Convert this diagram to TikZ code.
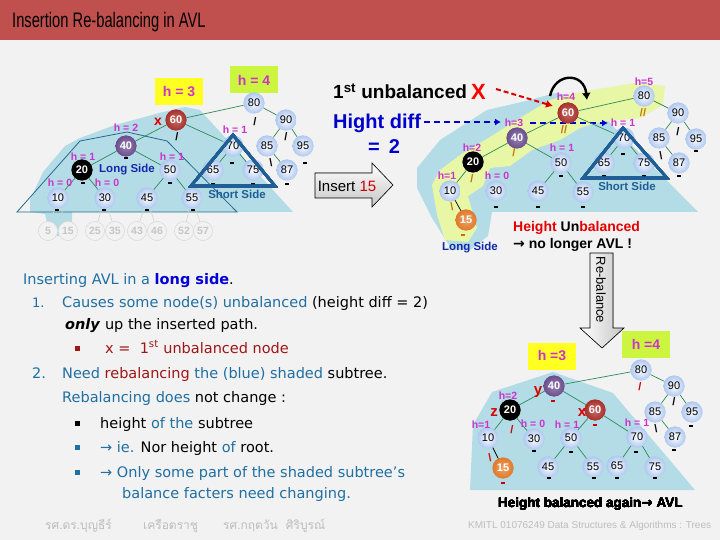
\documentclass[tikz,border=0pt]{standalone}
\usepackage{fontspec}
\setmainfont{Liberation Sans}
\newfontfamily\bodyfont{DejaVu Sans}
\newfontfamily\thaifont[Script=Thai]{Loma}
\usetikzlibrary{arrows.meta,calc}
\definecolor{titlered}{HTML}{C0504D}
\definecolor{bg}{HTML}{F2F2F2}
\definecolor{shadebl}{HTML}{B3DCE6}
\definecolor{yel}{HTML}{E8F7A6}
\definecolor{tealtx}{HTML}{1F6FA3}
\definecolor{dred}{HTML}{A01515}
\definecolor{hmag}{HTML}{CC33CC}
\definecolor{edgeg}{HTML}{2E8B57}
\definecolor{nblue}{HTML}{AFC8F0}
\definecolor{nsixty}{HTML}{A8302A}
\definecolor{nforty}{HTML}{6B4E8E}
\definecolor{nfifteen}{HTML}{E07A2A}
\definecolor{triblue}{HTML}{1F5F96}
\definecolor{outl}{HTML}{236A8E}
\definecolor{sideblue}{HTML}{1428A8}
\definecolor{slorange}{HTML}{C87000}
\definecolor{hyel}{HTML}{FFFF22}
\definecolor{hgreen}{HTML}{CCF53F}
\definecolor{foot}{HTML}{BDBDBD}
\newcommand\balmark[2][black]{\fill[#1] ($(#2)+(-2.3,-0.9)$) rectangle ++(4.6,1.8);}
\newcommand\bigarrow{{\bodyfont\bfseries →}}
\begin{document}
\begin{tikzpicture}[x=1pt,y=-1pt,
  tn/.style={circle,minimum size=21pt,inner sep=0pt,inner color=white,outer color=nblue,font=\fontsize{11}{12}\selectfont},
  sn/.style={circle,minimum size=21pt,inner sep=0pt,inner color=#1!70!white,outer color=#1,text=white,font=\fontsize{11}{12}\selectfont\bfseries},
  kn/.style={circle,minimum size=21pt,inner sep=0pt,fill=black,text=white,font=\fontsize{11}{12}\selectfont\bfseries},
  gl/.style={circle,draw=gray!30,fill=bg,minimum size=19pt,inner sep=0pt,text=gray!45,font=\fontsize{10.5}{12}\selectfont\bfseries},
  hl/.style={text=hmag,font=\fontsize{10.5}{12}\selectfont\bfseries,inner sep=0pt},
  sl/.style={font=\fontsize{11}{12}\selectfont\bfseries,inner sep=0pt},
  eg/.style={edgeg,line width=0.7pt},
  side/.style={font=\fontsize{11.5}{13}\selectfont\bfseries,inner sep=0pt},
  body/.style={anchor=base west,inner sep=0pt,font=\bodyfont\fontsize{14.5}{17}\selectfont},
  hbox/.style={minimum width=48pt,minimum height=27pt,inner sep=0pt,text=hmag,font=\fontsize{14}{16}\selectfont\bfseries},
  redl/.style={text=red!85!black,font=\fontsize{15}{16}\selectfont\bfseries,inner sep=0pt},
]
\useasboundingbox (0,0) rectangle (720,540);
\clip (0,0) rectangle (720,540);
\fill[bg] (0,0) rectangle (720,540);
\fill[titlered] (0,0) rectangle (720,40);
\node[anchor=base west,inner sep=0pt,font=\fontsize{21}{24}\selectfont] (title) at (12,28) {\scalebox{0.7}[1]{Insertion Re-balancing in AVL}};

% ================= Tree A (top left) =================
\fill[shadebl] (30,200) -- (43,172) -- (65,146) -- (80,138) -- (115,125) -- (163,112) -- (185,107) -- (200,110) -- (293,212) -- (72,212) -- (72,236) -- (50,236) -- (45,214) -- (30,212) -- cycle;
\draw[outl,line width=0.8pt] (17,212) -- (80,141) -- (127,132) -- (167,141) -- (237,212) -- cycle;
\node[hbox,fill=hyel] (ah3) at (179,92) {h = 3};
\node[hbox,fill=hgreen] (ah4) at (254,80) {h = 4};

\node[tn] (a80) at (254,103) {80};
\node[tn] (a90) at (286,120) {90};
\node[tn] (a85) at (267,146) {85};
\node[tn] (a95) at (303,146) {95};
\node[tn] (a87) at (287,170) {87};
\node[sn=nsixty] (a60) at (176,120) {60};
\node[sn=nforty] (a40) at (126,146) {40};
\node[tn] (a70) at (233,146) {70};
\node[kn] (a20) at (82,170) {20};
\node[tn] (a50) at (170,170) {50};
\node[tn] (a65) at (213,170) {65};
\node[tn] (a75) at (253,170) {75};
\node[tn] (a10) at (58,198) {10};
\node[tn] (a30) at (105,198) {30};
\node[tn] (a45) at (147,198) {45};
\node[tn] (a55) at (192,198) {55};
\node[gl] (g5) at (48,231) {5};
\node[gl] (g15) at (68,231) {15};
\node[gl] (g25) at (95,231) {25};
\node[gl] (g35) at (115,231) {35};
\node[gl] (g43) at (137,231) {43};
\node[gl] (g46) at (157,231) {46};
\node[gl] (g52) at (184,231) {52};
\node[gl] (g57) at (203,231) {57};
\foreach \p/\c in {a80/a60,a80/a90,a90/a85,a90/a95,a85/a87,a60/a40,a60/a70,a40/a20,a40/a50,a20/a10,a20/a30,a50/a45,a50/a55,a70/a65,a70/a75}
  \draw[eg] (\p) -- (\c);
\foreach \p/\c in {a10/g5,a10/g15,a30/g25,a30/g35,a45/g43,a45/g46,a55/g52,a55/g57}
  \draw[gray!35,line width=0.6pt] (\p) -- (\c);
\foreach \n/\v in {a80/80,a90/90,a85/85,a95/95,a87/87,a70/70,a50/50,a65/65,a75/75,a10/10,a30/30,a45/45,a55/55}
  \node[tn] at (\n) {\v};
\node[sn=nsixty] at (a60) {60};
\node[sn=nforty] at (a40) {40};
\node[kn] at (a20) {20};
\foreach \n/\v in {g5/5,g15/15,g25/25,g35/35,g43/43,g46/46,g52/52,g57/57}
  \node[gl] at (\n) {\v};

\node[hl] (ah2) at (126,128) {h = 2};
\node[hl] (ah1a) at (83,157) {h = 1};
\node[hl] (ah1b) at (172,157) {h = 1};
\node[hl] (ah0a) at (60,183) {h = 0};
\node[hl] (ah0b) at (107,183) {h = 0};
\node[hl] (ah1c) at (235,130) {h = 1};
\node[redl,font=\fontsize{14}{16}\selectfont\bfseries] (ax) at (158,122) {x};
\node[sl] (as80) at (255,122) {/};
\node[sl] (as90) at (286,137) {/};
\node[sl] (as60) at (177,137) {/};
\node[sl] (as85) at (271,163) {\textbackslash};
\foreach \q in {{126,158},{83,183},{57,210},{104,210},{147,210},{193,210},{170,183},{232,163},{213,184},{253,184},{287,184},{305,163}}
  \balmark{\q}
\draw[triblue,line width=2.6pt,line join=miter] (233,135) -- (191,186) -- (275,186) -- cycle;
\node[side,text=sideblue] (along) at (127,170) {Long Side};
\node[side,text=triblue] (ashort) at (237,194) {Short Side};

% ================= Middle =================
\node[anchor=base west,inner sep=0pt,font=\fontsize{19}{22}\selectfont\bfseries] (unb) at (333,99) {1\textsuperscript{st} unbalanced};
\node[anchor=base west,inner sep=0pt,text=red,font=\fontsize{22}{22}\selectfont\bfseries] (redx) at (471,100) {X};
\node[anchor=base west,inner sep=0pt,text=blue!80!black,font=\fontsize{20}{22}\selectfont\bfseries] (hd) at (333,129) {Hight diff};
\node[anchor=base west,inner sep=0pt,text=blue!80!black,font=\fontsize{20}{22}\selectfont\bfseries] (eq2) at (368,154) {=\, 2};
\fill[top color=white,bottom color=gray!45,draw=black,line width=0.6pt] (315,173) -- (372,173) -- (372,163) -- (393,185) -- (372,207) -- (372,198) -- (315,198) -- cycle;
\node[font=\fontsize{15}{16}\selectfont,inner sep=0pt] (ins) at (347,186) {Insert \textcolor{red!80!black}{15}};

% ================= Tree B (top right) =================
\fill[shadebl] (417,168) -- (440,140) -- (487,110) -- (530,100) -- (555,93) -- (600,100) -- (610,123) -- (698,212) -- (492,212) -- (488,236) -- (470,250) -- (452,250) -- (432,218) -- (417,188) -- cycle;
\fill[yel] (445,240) -- (437,215) -- (432,185) -- (440,170) -- (460,155) -- (490,137) -- (520,118) -- (550,100) -- (580,92) -- (635,83) -- (665,86) -- (663,105) -- (640,118) -- (600,122) -- (580,128) -- (560,140) -- (532,150) -- (510,166) -- (490,168) -- (483,186) -- (468,196) -- (477,228) -- (468,242) -- cycle;
\draw[red!85!black,line width=2pt,dash pattern=on 5pt off 3pt,-{Latex[length=7pt,width=8pt]}] (496,89) -- (553,106);
\draw[blue!80!black,line width=2pt,dash pattern=on 6pt off 4pt,-{Latex[length=6pt,width=7pt]}] (hd.east |- 0,122) ++(3,0) -- (501,122);
\draw[blue!80!black,line width=2pt,dash pattern=on 6pt off 4pt,-{Latex[length=6pt,width=7pt]}] (530,123) -- (608,123);
\node[tn] (b80) at (644,96) {80};
\node[tn] (b90) at (678,113) {90};
\node[tn] (b85) at (659,138) {85};
\node[tn] (b95) at (696,139) {95};
\node[tn] (b87) at (679,163) {87};
\node[sn=nsixty] (b60) at (568,113) {60};
\node[sn=nforty] (b40) at (517,138) {40};
\node[tn] (b70) at (624,138) {70};
\node[kn] (b20) at (473,162) {20};
\node[tn] (b50) at (561,163) {50};
\node[tn] (b65) at (604,163) {65};
\node[tn] (b75) at (644,163) {75};
\node[tn] (b10) at (450,191) {10};
\node[tn] (b30) at (496,191) {30};
\node[tn] (b45) at (538,191) {45};
\node[tn] (b55) at (583,192) {55};
\node[sn=nfifteen] (b15) at (466,220) {15};
\foreach \p/\c in {b80/b60,b80/b90,b90/b85,b90/b95,b85/b87,b60/b40,b60/b70,b40/b20,b40/b50,b20/b10,b50/b45,b50/b55,b70/b65,b70/b75}
  \draw[eg] (\p) -- (\c);
\draw[black,line width=0.7pt] (b10) -- (b15);
\foreach \n/\v in {b80/80,b90/90,b85/85,b95/95,b87/87,b70/70,b50/50,b65/65,b75/75,b10/10,b30/30,b45/45,b55/55}
  \node[tn] at (\n) {\v};
\node[sn=nsixty] at (b60) {60};
\node[sn=nforty] at (b40) {40};
\node[kn] at (b20) {20};
\node[sn=nfifteen] at (b15) {15};
\draw[line width=2.4pt,-{Latex[length=7pt,width=9pt]}] (550,96) .. controls (555,72) and (584,72) .. (587,100);
\node[hl] (bh5) at (644,82) {h=5};
\node[hl] (bh4) at (566,97) {h=4};
\node[hl] (bh3) at (514,123) {h=3};
\node[hl] (bh1a) at (623,123) {h = 1};
\node[hl] (bh2) at (472,148) {h=2};
\node[hl] (bh1b) at (562,148) {h = 1};
\node[hl] (bh1c) at (447,176) {h=1};
\node[hl] (bh0) at (497,176) {h = 0};
\node[sl,text=slorange] (bs60) at (564,130) {//};
\node[sl,text=slorange] (bs80) at (643,113) {//};
\node[sl,text=slorange] (bs40) at (514,153) {/};
\node[sl,text=slorange] (bs20) at (472,179) {/};
\node[sl,text=slorange] (bs10) at (452,207) {\textbackslash};
\node[sl] (bs90) at (678,132) {/};
\node[sl] (bs85) at (661,156) {\textbackslash};
\balmark[slorange]{463,235}
\foreach \q in {{496,207},{538,207},{583,207},{561,176},{623,154},{604,176},{644,176},{679,176},{696,151}}
  \balmark{\q}
\draw[triblue,line width=2.6pt,line join=miter] (623,128) -- (583,178) -- (667,178) -- cycle;
\node[side,text=sideblue] (blong) at (470,248) {Long Side};
\node[side,text=triblue] (bshort) at (627,186) {Short Side};
\node[anchor=base west,inner sep=0pt,font=\fontsize{14}{16}\selectfont\bfseries] (hu) at (513,232) {\textcolor{red!90!black}{Height} Un\textcolor{red!90!black}{balanced}};
\node[anchor=base west,inner sep=0pt,font=\fontsize{14}{16}\selectfont\bfseries] (nl) at (513,248) {\bigarrow\ no longer AVL !};

% Re-balance arrow
\fill[left color=white,right color=gray!45,draw=black,line width=0.6pt] (590,253) -- (613,253) -- (613,328) -- (624,328) -- (602,348) -- (580,328) -- (590,328) -- cycle;
\node[rotate=-90,font=\fontsize{13}{15}\selectfont,inner sep=0pt] (rb) at (601,290) {Re-balance};

% ================= Tree C (bottom right) =================
\fill[shadebl] (470,490) -- (473,425) -- (492,392) -- (553,372) -- (613,393) -- (695,490) -- cycle;
\node[hbox,fill=hyel] (ch3) at (552,356) {h =3};
\node[hbox,fill=hgreen] (ch4) at (646,344) {h =4};
\node[tn] (c80) at (641,370) {80};
\node[tn] (c90) at (674,386) {90};
\node[tn] (c85) at (655,412) {85};
\node[tn] (c95) at (692,412) {95};
\node[tn] (c87) at (675,437) {87};
\node[sn=nforty] (c40) at (554,386) {40};
\node[kn] (c20) at (510,410) {20};
\node[sn=nsixty] (c60) at (595,410) {60};
\node[tn] (c10) at (488,438) {10};
\node[tn] (c30) at (534,439) {30};
\node[tn] (c50) at (571,438) {50};
\node[tn] (c70) at (637,437) {70};
\node[sn=nfifteen] (c15) at (503,468) {15};
\node[tn] (c45) at (548,467) {45};
\node[tn] (c55) at (593,467) {55};
\node[tn] (c65) at (617,466) {65};
\node[tn] (c75) at (655,467) {75};
\foreach \p/\c in {c80/c40,c80/c90,c90/c85,c90/c95,c85/c87,c40/c20,c40/c60,c20/c10,c20/c30,c60/c50,c60/c70,c50/c45,c50/c55,c70/c65,c70/c75}
  \draw[eg] (\p) -- (\c);
\draw[black,line width=0.7pt] (c10) -- (c15);
\foreach \n/\v in {c80/80,c90/90,c85/85,c95/95,c87/87,c10/10,c30/30,c50/50,c70/70,c45/45,c55/55,c65/65,c75/75}
  \node[tn] at (\n) {\v};
\node[sn=nforty] at (c40) {40};
\node[kn] at (c20) {20};
\node[sn=nsixty] at (c60) {60};
\node[sn=nfifteen] at (c15) {15};
\node[hl] (chh2) at (508,396) {h=2};
\node[hl] (chh1a) at (481,425) {h=1};
\node[hl] (chh0) at (533,424) {h = 0};
\node[hl] (chh1b) at (567,425) {h = 1};
\node[hl] (chh1c) at (637,423) {h = 1};
\node[redl] (cy) at (538,392) {y};
\node[redl] (cz) at (494,413) {z};
\node[redl] (cx) at (582,413) {x};
\node[sl,text=red!80!black] (cs20) at (512,430) {/};
\node[sl,text=red!80!black] (cs10) at (490,458) {\textbackslash};
\node[sl,text=red!80!black] (cs80) at (640,387) {/};
\node[sl] (cs90) at (674,402) {/};
\node[sl] (cs85) at (656,429) {\textbackslash};
\balmark[red!80!black]{553,401}
\balmark[red!80!black]{595,425}
\balmark[red!80!black]{503,483}
\foreach \q in {{534,451},{571,452},{636,452},{549,478},{594,478},{617,478},{655,478},{674,450},{691,426}}
  \balmark{\q}
\node[anchor=base west,inner sep=0pt,font=\fontsize{13.5}{16}\selectfont\bfseries] (hb) at (498,507) {Height balanced again\bigarrow\ AVL};

% ================= Text block =================
\node[body,text=tealtx] (t1) at (23,284) {Inserting AVL in a \textcolor{blue!85!black}{\textbf{long side}}\textcolor{black}{.}};
\node[body,text=tealtx,font=\bodyfont\fontsize{13}{15}\selectfont] (n1) at (32,307) {1.};
\node[body,text=tealtx] (t2) at (62,307) {Causes some node(s) unbalanced \textcolor{black}{(height diff = 2)}};
\node[body] (t3) at (65,329) {\textbf{\textit{only}} up the inserted path.};
\fill[dred] (75,346) rectangle (80,351);
\node[body,text=dred] (t4) at (105,353) {x =\ \ 1\textsuperscript{st} unbalanced node};
\node[body,text=tealtx] (n2) at (32,378) {2.};
\node[body,text=tealtx] (t5) at (62,378) {Need \textcolor{dred}{rebalancing} the (blue) shaded \textcolor{black}{subtree.}};
\node[body,text=tealtx] (t6) at (62,402) {Rebalancing does \textcolor{black}{not change :}};
\fill[black] (75,421) rectangle (80,426);
\node[body] (t7) at (100,428) {height \textcolor{tealtx}{of the} subtree};
\fill[tealtx] (75,445) rectangle (80,450);
\node[body,text=tealtx] (t8) at (100,452) {→ ie. \textcolor{black}{Nor height} of \textcolor{black}{root.}};
\fill[tealtx] (75,470) rectangle (80,475);
\node[body,text=tealtx] (t9) at (100,477) {→ Only some part of the shaded subtree’s};
\node[body,text=tealtx] (t10) at (122,498) {balance facters need changing.};

% ================= Footers =================
\node[anchor=base west,inner sep=0pt,text=foot,font=\thaifont\fontsize{12}{14}\selectfont] (f1) at (45,529) {รศ.ดร.บุญธีร์};
\node[anchor=base west,inner sep=0pt,text=foot,font=\thaifont\fontsize{12}{14}\selectfont] (f2) at (143,529) {เครือตราชู};
\node[anchor=base west,inner sep=0pt,text=foot,font=\thaifont\fontsize{12}{14}\selectfont] (f3) at (223,529) {รศ.กฤตวัน\ \ ศิริบูรณ์};
\node[anchor=base west,inner sep=0pt,text=foot,font=\fontsize{10}{12}\selectfont] (f4) at (468,528) {KMITL 01076249 Data Structures \& Algorithms : Trees};
\end{tikzpicture}
\end{document}
